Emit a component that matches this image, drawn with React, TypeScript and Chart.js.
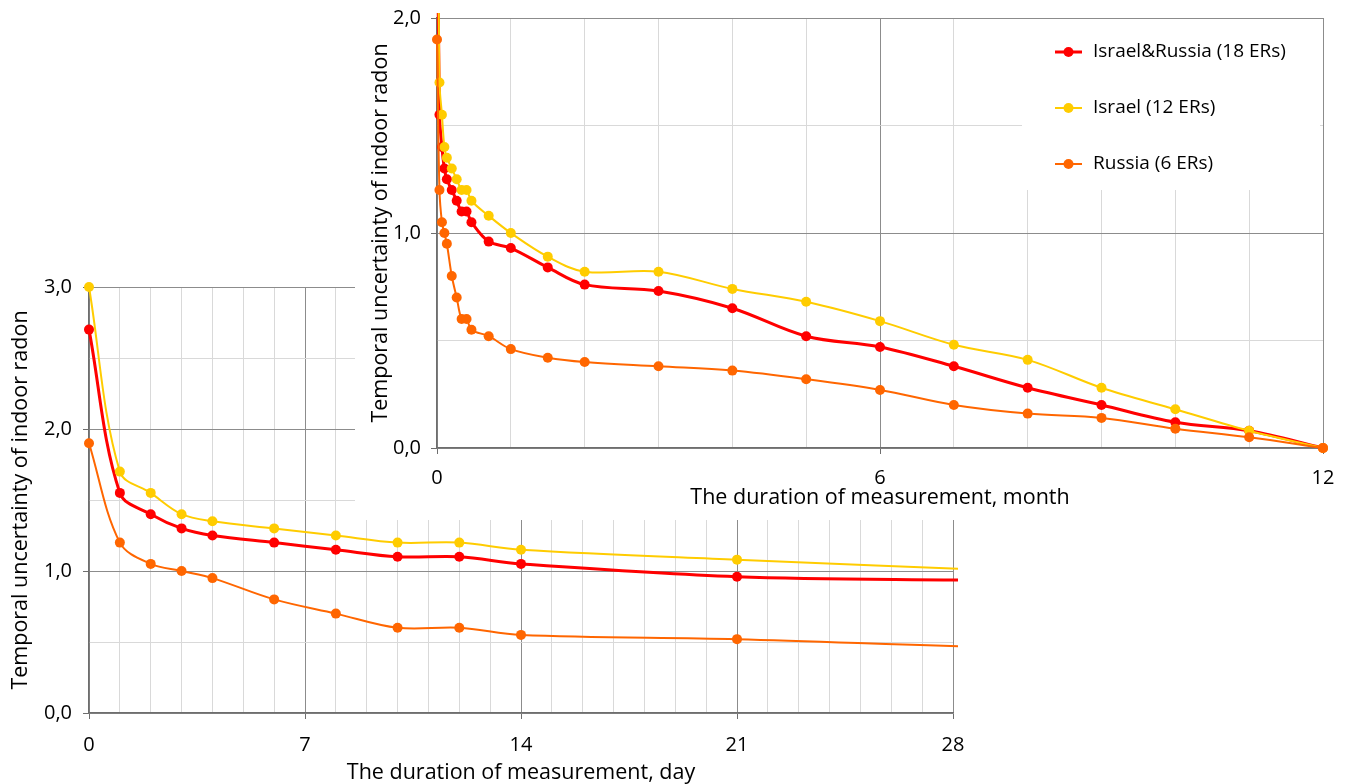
import React, { useEffect, useRef } from 'react';
import { Chart, registerables } from 'chart.js';

Chart.register(...registerables);

// Duration of measurement, days
const days = [0, 1, 2, 3, 4, 6, 8, 10, 12, 14, 21, 30, 45, 60, 90, 120, 150, 180, 210, 240, 270, 300, 330, 360];
// Temporal uncertainty of indoor radon
const israelRussia = [2.7, 1.55, 1.4, 1.3, 1.25, 1.2, 1.15, 1.1, 1.1, 1.05, 0.96, 0.93, 0.84, 0.76, 0.73, 0.65, 0.52, 0.47, 0.38, 0.28, 0.2, 0.12, 0.08, 0.0];
const israel = [3.0, 1.7, 1.55, 1.4, 1.35, 1.3, 1.25, 1.2, 1.2, 1.15, 1.08, 1.0, 0.89, 0.82, 0.82, 0.74, 0.68, 0.59, 0.48, 0.41, 0.28, 0.18, 0.08, 0.0];
const russia = [1.9, 1.2, 1.05, 1.0, 0.95, 0.8, 0.7, 0.6, 0.6, 0.55, 0.52, 0.46, 0.42, 0.4, 0.38, 0.36, 0.32, 0.27, 0.2, 0.16, 0.14, 0.09, 0.05, 0.0];

const seriesNames = ['Israel&Russia (18 ERs)', 'Israel (12 ERs)', 'Russia (6 ERs)'];
const seriesColors = ['#FF0000', '#FFCC00', '#FF6600'];
const seriesWidths = [3, 2, 2];
const daysPerMonth = 30;

const dayTickLabels = [0, 7, 14, 21, 28];
const monthTickLabels = [0, 6, 12];
const valueTickLabels = [0, 1, 2, 3];

const dayTitle = 'The duration of measurement, day';
const monthTitle = 'The duration of measurement, month';
const yTitle = 'Temporal uncertainty of indoor radon';

const FONT = '"Open Sans", "Noto Sans", sans-serif';
const MAJOR = '#8c8c8c';
const MINOR = '#d9d9d9';
const AXIS = '#6e6e6e';

const fmt = (v: number) => v.toFixed(1).replace('.', ',');

function makeDatasets(div: number) {
  const values = [israelRussia, israel, russia];
  return values.map((vals, i) => ({
    label: seriesNames[i],
    data: days.map((d, j) => ({ x: d / div, y: vals[j] })),
    borderColor: seriesColors[i],
    backgroundColor: seriesColors[i],
    pointBackgroundColor: seriesColors[i],
    pointBorderColor: seriesColors[i],
    pointBorderWidth: 0,
    pointRadius: 5,
    borderWidth: seriesWidths[i],
    tension: 0.35,
    fill: false,
    clip: 5,
    order: values.length - 1 - i,
  }));
}

function gridCfg(isMajor: (v: number) => boolean) {
  return {
    color: (c: any) => (c.tick && isMajor(c.tick.value) ? MAJOR : MINOR),
    tickColor: (c: any) => (c.tick && isMajor(c.tick.value) ? AXIS : 'rgba(0,0,0,0)'),
    tickLength: 6,
    lineWidth: 1,
  };
}

const near = (a: number, b: number) => Math.abs(a - b) < 1e-6;

const fixHeight = (h: number) => (s: any) => {
  s.height = h;
  s.paddingLeft = 0;
  s.paddingRight = 0;
  s.paddingTop = 0;
  s.paddingBottom = 0;
};
const fixWidth = (w: number) => (s: any) => {
  s.width = w;
  s.paddingLeft = 0;
  s.paddingRight = 0;
  s.paddingTop = 0;
  s.paddingBottom = 0;
};

const whiteBg = {
  id: 'whiteBg',
  beforeDraw(chart: any) {
    const { ctx, width, height } = chart;
    ctx.save();
    ctx.fillStyle = '#ffffff';
    ctx.fillRect(0, 0, width, height);
    ctx.restore();
  },
};

const insetLegend = {
  id: 'insetLegend',
  afterDatasetsDraw(chart: any) {
    const { ctx, chartArea } = chart;
    const boxLeft = chartArea.right - 301;
    const boxTop = chartArea.top + 1;
    ctx.save();
    ctx.fillStyle = '#ffffff';
    ctx.fillRect(boxLeft, boxTop, 298, 171);
    chart.data.datasets.forEach((ds: any, i: number) => {
      const y = chartArea.top + 34 + i * 56;
      const x0 = boxLeft + 33;
      ctx.strokeStyle = ds.borderColor;
      ctx.lineWidth = ds.borderWidth;
      ctx.beginPath();
      ctx.moveTo(x0, y);
      ctx.lineTo(x0 + 27, y);
      ctx.stroke();
      ctx.fillStyle = ds.borderColor;
      ctx.beginPath();
      ctx.arc(x0 + 13.5, y, 5, 0, Math.PI * 2);
      ctx.fill();
      ctx.fillStyle = '#000000';
      ctx.font = `19px ${FONT}`;
      ctx.textAlign = 'left';
      ctx.textBaseline = 'middle';
      ctx.fillText(ds.label, x0 + 38, y);
    });
    ctx.restore();
  },
};

function dayChartConfig(): any {
  return {
    type: 'line',
    data: { datasets: makeDatasets(1) },
    plugins: [whiteBg],
    options: {
      responsive: false,
      animation: false,
      devicePixelRatio: 1,
      layout: { padding: { left: 0, top: 287, right: 395, bottom: 0 } },
      plugins: { legend: { display: false }, tooltip: { enabled: false } },
      elements: { line: { capBezierPoints: false } },
      scales: {
        x: {
          type: 'linear',
          min: 0,
          max: 28,
          afterFit: fixHeight(71),
          ticks: {
            stepSize: 1,
            autoSkip: false,
            maxRotation: 0,
            padding: 14,
            color: '#000',
            font: { family: FONT, size: 20 },
            callback: (v: number) => (dayTickLabels.some((t) => near(t, v)) ? String(v) : ''),
          },
          grid: gridCfg((v) => dayTickLabels.some((t) => near(t, v))),
          border: { color: AXIS, width: 1.5 },
          title: { display: true, text: dayTitle, color: '#000', font: { family: FONT, size: 21.5, lineHeight: 1 }, padding: { top: 0, bottom: 0 } },
        },
        y: {
          type: 'linear',
          min: 0,
          max: 3,
          afterFit: fixWidth(89),
          ticks: {
            stepSize: 0.5,
            autoSkip: false,
            padding: 11,
            color: '#000',
            font: { family: FONT, size: 20 },
            callback: (v: number) => (valueTickLabels.some((t) => near(t, v)) ? fmt(v) : ''),
          },
          grid: gridCfg((v) => valueTickLabels.some((t) => near(t, v))),
          border: { color: AXIS, width: 1.5 },
          title: { display: true, text: yTitle, color: '#000', font: { family: FONT, size: 21.5 }, padding: { top: 8, bottom: 0 } },
        },
      },
    },
  };
}

function monthChartConfig(): any {
  return {
    type: 'line',
    data: { datasets: makeDatasets(daysPerMonth) },
    plugins: [whiteBg, insetLegend],
    options: {
      responsive: false,
      animation: false,
      devicePixelRatio: 1,
      layout: { padding: { left: 0, top: 18, right: 25, bottom: 0 } },
      plugins: { legend: { display: false }, tooltip: { enabled: false } },
      elements: { line: { capBezierPoints: false } },
      scales: {
        x: {
          type: 'linear',
          min: 0,
          max: 12,
          afterFit: fixHeight(72),
          ticks: {
            stepSize: 1,
            autoSkip: false,
            maxRotation: 0,
            padding: 12,
            color: '#000',
            font: { family: FONT, size: 20 },
            callback: (v: number) => (monthTickLabels.some((t) => near(t, v)) ? String(v) : ''),
          },
          grid: gridCfg((v) => monthTickLabels.some((t) => near(t, v))),
          border: { color: AXIS, width: 1.5 },
          title: { display: true, text: monthTitle, color: '#000', font: { family: FONT, size: 21.5 }, padding: { top: 0, bottom: 9 } },
        },
        y: {
          type: 'linear',
          min: 0,
          max: 2,
          afterFit: fixWidth(82),
          ticks: {
            stepSize: 0.5,
            autoSkip: false,
            padding: 10,
            color: '#000',
            font: { family: FONT, size: 20 },
            callback: (v: number) => (valueTickLabels.some((t) => near(t, v)) ? fmt(v) : ''),
          },
          grid: gridCfg((v) => valueTickLabels.some((t) => near(t, v))),
          border: { color: AXIS, width: 1.5 },
          title: { display: true, text: yTitle, color: '#000', font: { family: FONT, size: 21.5 }, padding: { top: 13, bottom: 0 } },
        },
      },
    },
  };
}

export default function App() {
  const dayRef = useRef<HTMLCanvasElement | null>(null);
  const monthRef = useRef<HTMLCanvasElement | null>(null);

  useEffect(() => {
    let cancelled = false;
    let c1: Chart | null = null;
    let c2: Chart | null = null;
    const build = () => {
      if (cancelled || !dayRef.current || !monthRef.current) return;
      c1 = new Chart(dayRef.current, dayChartConfig());
      c2 = new Chart(monthRef.current, monthChartConfig());
    };
    const fonts: any = (document as any).fonts;
    if (fonts && fonts.load) {
      Promise.all([fonts.load(`20px "Open Sans"`)]).then(build, build);
    } else {
      build();
    }
    return () => {
      cancelled = true;
      if (c1) c1.destroy();
      if (c2) c2.destroy();
    };
  }, []);

  return (
    <div style={{ position: 'absolute', left: 0, top: 0, width: 1348, height: 784, background: '#fff' }}>
      <canvas
        ref={dayRef}
        width={1348}
        height={784}
        style={{ position: 'absolute', left: 0, top: 0, width: 1348, height: 784 }}
      />
      <canvas
        ref={monthRef}
        width={993}
        height={520}
        style={{ position: 'absolute', left: 355, top: 0, width: 993, height: 520, zIndex: 1 }}
      />
    </div>
  );
}
